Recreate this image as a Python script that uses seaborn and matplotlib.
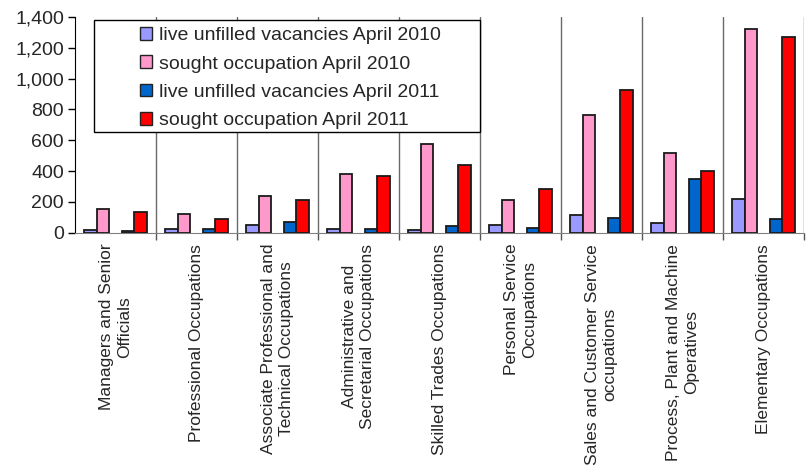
# vacancies vs sought occupations, April 2010 / April 2011

import numpy as np
import pandas as pd
import matplotlib
matplotlib.use("Agg")
import matplotlib.pyplot as plt
import seaborn as sns
from matplotlib.patches import Patch, Rectangle
from matplotlib.ticker import FuncFormatter, FixedLocator

categories = [
    "Managers and Senior\nOfficials",
    "Professional Occupations",
    "Associate Professional and\nTechnical Occupations",
    "Administrative and\nSecretarial Occupations",
    "Skilled Trades Occupations",
    "Personal Service\nOccupations",
    "Sales and Customer Service\noccupations",
    "Process, Plant and Machine\nOperatives",
    "Elementary Occupations",
]
vacancies_2010 = [20, 26, 52, 26, 17, 52, 113, 60, 216]
sought_2010 = [155, 123, 236, 379, 578, 210, 762, 517, 1319]
vacancies_2011 = [8, 26, 69, 26, 41, 33, 95, 351, 87]
sought_2011 = [132, 87, 210, 368, 440, 282, 929, 403, 1267]

series_names = [
    "live unfilled vacancies April 2010",
    "sought occupation April 2010",
    "live unfilled vacancies April 2011",
    "sought occupation April 2011",
]
colors = ["#9999FF", "#FF99CC", "#0066CC", "#FF0000"]

rows = []
for name, vals in zip(series_names, [vacancies_2010, sought_2010, vacancies_2011, sought_2011]):
    for cat, v in zip(categories, vals):
        rows.append({"category": cat, "series": name, "value": v})
df = pd.DataFrame(rows)

sns.set_style("white")
plt.rcParams["font.family"] = ["Liberation Sans", "DejaVu Sans"]

fig = plt.figure(figsize=(8.11, 4.68), dpi=100)
ax = fig.add_axes([75 / 811, 1 - 232.7 / 468, 729 / 811, 215.7 / 468])

# empty slot in the middle of each group
hue_order = series_names[:2] + [" "] + series_names[2:]
palette = colors[:2] + ["#FFFFFF"] + colors[2:]

sns.barplot(
    data=df, x="category", y="value", hue="series",
    order=categories, hue_order=hue_order, palette=palette,
    width=0.77, saturation=1, edgecolor="#1a1a1a", linewidth=1.3,
    legend=False, ax=ax, zorder=3,
)

ax.set_xlim(-0.5, 8.5)
ax.set_ylim(0, 1400)
ax.set_yticks(np.arange(0, 1401, 200))
ax.yaxis.set_major_formatter(FuncFormatter(lambda v, p: f"{int(v):,}"))
ax.tick_params(axis="y", direction="out", length=5, width=1, color="black",
               labelsize=14, left=True, pad=3)

ax.set_xticks(range(len(categories)))
ax.set_xticklabels(categories, rotation=90, fontsize=12.5, va="top", ha="center",
                   multialignment="center", linespacing=1.2)
ax.tick_params(axis="x", which="major", length=0, pad=8)
ax.xaxis.set_minor_locator(FixedLocator(np.arange(0.5, 9, 1)))
ax.tick_params(axis="x", which="minor", direction="out", length=5, width=1,
               color="#555555", bottom=True)
ax.grid(False)
ax.grid(True, axis="x", which="minor", color="#6a6a6a", linewidth=1)

ax.set_xlabel("")
ax.set_ylabel("")
sns.despine(ax=ax, top=True, right=True)
ax.spines["left"].set_color("black")
ax.spines["bottom"].set_color("#808080")

# legend box
x0 = (94 - 75) / 729
x1 = (480 - 75) / 729
y1 = (232.7 - 20) / 215.7
y0 = (232.7 - 132) / 215.7
ax.add_patch(Rectangle((x0, y0), x1 - x0, y1 - y0, transform=ax.transAxes,
                       facecolor="white", edgecolor="black", linewidth=1,
                       zorder=4, clip_on=False))
handles = [Patch(facecolor=c, edgecolor="#222222", linewidth=1) for c in colors]
leg = ax.legend(handles, series_names, loc="upper left",
                bbox_to_anchor=((140 - 75) / 729, (232.7 - 27) / 215.7),
                frameon=False, fontsize=14, borderpad=0, borderaxespad=0,
                handlelength=0.62, handleheight=0.62, handletextpad=0.35,
                labelspacing=0.58)
leg.set_zorder(5)

fig.savefig("out.png", dpi=100)
